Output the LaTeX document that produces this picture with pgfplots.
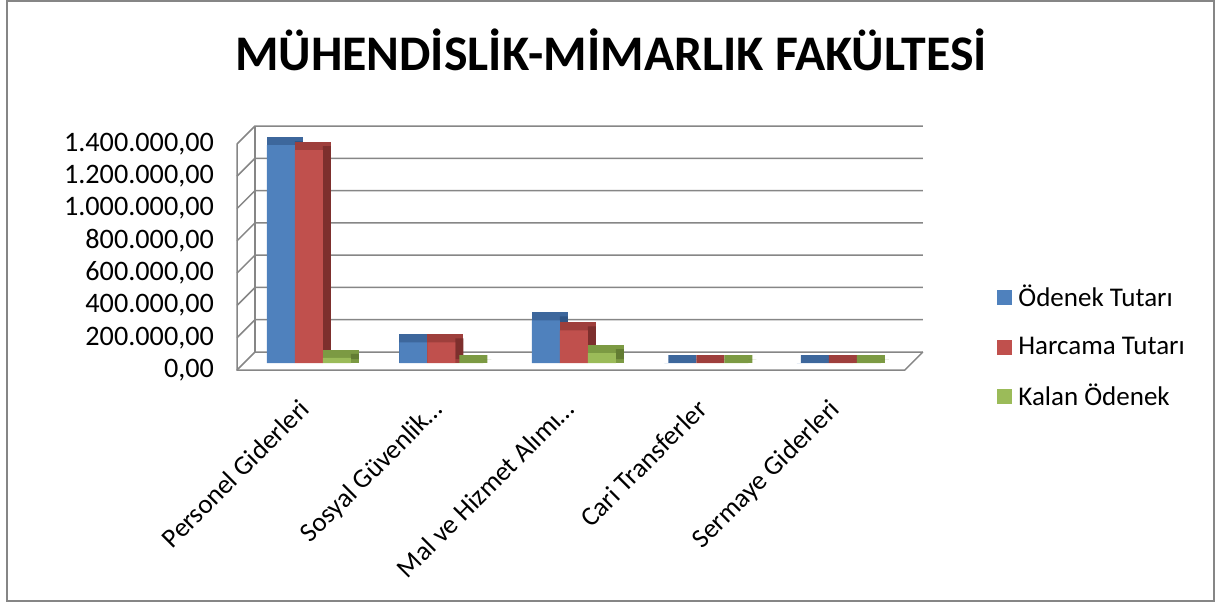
\documentclass[border=0pt]{standalone}
\usepackage{pgfplots}
\usepackage{pgfplotstable}
\pgfplotsset{compat=1.18}
\usepackage{fontspec}
\setmainfont{Carlito}
\definecolor{cBlue}{HTML}{4F81BD}
\definecolor{cBlueTop}{HTML}{3D679C}
\definecolor{cBlueSide}{HTML}{2F5585}
\definecolor{cRed}{HTML}{C0504D}
\definecolor{cRedTop}{HTML}{9E3F3C}
\definecolor{cRedSide}{HTML}{7D2F2D}
\definecolor{cGreen}{HTML}{9BBB59}
\definecolor{cGreenTop}{HTML}{7C9A43}
\definecolor{cGreenSide}{HTML}{637D33}
\definecolor{cGrid}{HTML}{868686}
\pgfplotstableread{
x odenek harcama kalan
0 1350000 1318000 32000
1 128000 128000 0
2 264000 202000 62000
3 0 0 0
4 0 0 0
}\data
\begin{document}
\begin{tikzpicture}
\path[use as bounding box] (0,0) rectangle (607.5pt,301pt);
\draw[cGrid, line width=1pt] (3.5pt,0.5pt) rectangle (607pt,300.5pt);
\node[anchor=base, font=\fontsize{24.9}{29}\selectfont\bfseries] at (305.5pt,266pt) {MÜHENDİSLİK-MİMARLIK FAKÜLTESİ};
\begin{axis}[
  at={(122pt,119.5pt)}, anchor=south west,
  scale only axis, width=333.9pt, height=113pt,
  xmin=-0.49, xmax=4.55, ymin=0, ymax=1400000,
  clip=false,
  axis line style={draw=none},
  major tick length=0pt,
  ytick={0,200000,400000,600000,800000,1000000,1200000,1400000},
  scaled y ticks=false,
  yticklabel style={xshift=-11.5pt, yshift=-3.5pt, font=\fontsize{14.1}{16}\selectfont,
    /pgf/number format/fixed, /pgf/number format/fixed zerofill,
    /pgf/number format/precision=2, /pgf/number format/use comma,
    /pgf/number format/1000 sep={.}, /pgf/number format/assume math mode=true},
  xtick={0,1,2,3,4},
  xticklabels={Personel Giderleri, Sosyal Güvenlik…, Mal ve Hizmet Alımı…, Cari Transferler, Sermaye Giderleri},
  xticklabel style={xshift=-5.5pt, yshift=-12.3pt, rotate=45, anchor=north east, font=\fontsize{13.5}{16}\selectfont},
  legend cell align=left,
  legend style={draw=none, fill=none, inner sep=0pt, at={(1.1276,0.0708)}, anchor=west,
    font=\fontsize{13.5}{16}\selectfont, row sep=9.5pt,
    /tikz/every odd column/.append style={column sep=1pt}},
]
% 3D-like frame: left wall, back wall grid, floor
\pgfplotsinvokeforeach{0,200000,400000,600000,800000,1000000,1200000,1400000}{
  \draw[cGrid, line width=0.75pt] ([shift={(-3.5pt,-3.5pt)}]axis cs:-0.49,#1) -- ([shift={(5.5pt,5.5pt)}]axis cs:-0.49,#1) -- ([shift={(5.5pt,5.5pt)}]axis cs:4.55,#1);
}
\draw[cGrid, line width=0.75pt] ([shift={(-3.5pt,-3.5pt)}]axis cs:-0.49,1400000) -- ([shift={(-3.5pt,-3.5pt)}]axis cs:-0.49,0) -- ([shift={(-3.5pt,-3.5pt)}]axis cs:4.55,0) -- ([shift={(5.5pt,5.5pt)}]axis cs:4.55,0);
\draw[cGrid, line width=0.75pt] ([shift={(5.5pt,5.5pt)}]axis cs:-0.49,0) -- ([shift={(5.5pt,5.5pt)}]axis cs:-0.49,1400000);
% Ödenek Tutarı
\addplot[ybar, forget plot, bar width=14pt, bar shift=-12pt, yshift=2pt, fill=cBlueTop, draw=cBlueTop, line width=4pt, line join=miter] table[x=x,y=odenek]{\data};
\addplot[ybar, forget plot, bar width=4pt, bar shift=-5pt, yshift=2pt, fill=cBlueSide, draw=none] table[x=x,y=odenek]{\data};
\addplot[ybar, bar width=14pt, bar shift=-14pt, fill=cBlue, draw=none,
  legend image code/.code={\fill[cBlue] (0pt,-3.75pt) rectangle (7.5pt,3.75pt);}] table[x=x,y=odenek]{\data};
\addlegendentry{Ödenek Tutarı}
% Harcama Tutarı
\addplot[ybar, forget plot, bar width=14pt, bar shift=2pt, yshift=2pt, fill=cRedTop, draw=cRedTop, line width=4pt, line join=miter] table[x=x,y=harcama]{\data};
\addplot[ybar, forget plot, bar width=4pt, bar shift=9pt, yshift=2pt, fill=cRedSide, draw=none] table[x=x,y=harcama]{\data};
\addplot[ybar, bar width=14pt, bar shift=0pt, fill=cRed, draw=none,
  legend image code/.code={\fill[cRed] (0pt,-3.75pt) rectangle (7.5pt,3.75pt);}] table[x=x,y=harcama]{\data};
\addlegendentry{Harcama Tutarı}
% Kalan Ödenek
\addplot[ybar, forget plot, bar width=14pt, bar shift=16pt, yshift=2pt, fill=cGreenTop, draw=cGreenTop, line width=4pt, line join=miter] table[x=x,y=kalan]{\data};
\addplot[ybar, forget plot, bar width=4pt, bar shift=23pt, yshift=2pt, fill=cGreenSide, draw=none] table[x=x,y=kalan]{\data};
\addplot[ybar, bar width=14pt, bar shift=14pt, fill=cGreen, draw=none,
  legend image code/.code={\fill[cGreen] (0pt,-3.75pt) rectangle (7.5pt,3.75pt);}] table[x=x,y=kalan]{\data};
\addlegendentry{Kalan Ödenek}
\end{axis}
\end{tikzpicture}
\end{document}
